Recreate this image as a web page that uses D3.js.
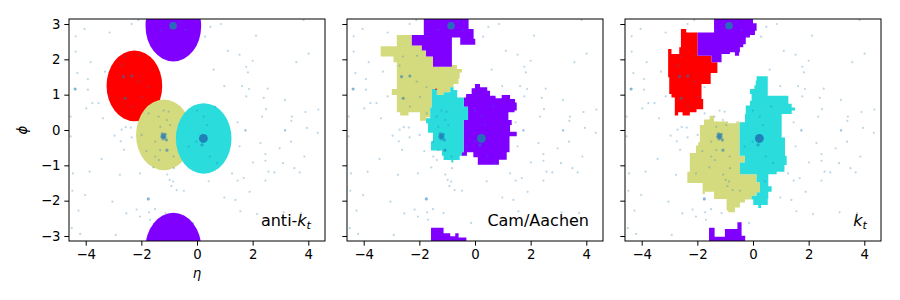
<!DOCTYPE html>
<html><head><meta charset="utf-8">
<script src="https://cdn.jsdelivr.net/npm/d3@7"></script>
<style>body{margin:0;background:#fff} svg text{font-family:"DejaVu Sans",sans-serif}</style>
</head><body><svg id="c" width="900" height="300"></svg>
<script>
// ---------- data ----------
const algorithms = ["anti-kt", "Cam/Aachen", "kt"];
const etaTicks = [-4, -2, 0, 2, 4];
const phiTicks = [-3, -2, -1, 0, 1, 2, 3];
const etaDomain = [-4.6, 4.6];
const phiDomain = [-Math.PI, Math.PI];

// anti-kt: circular areas (drawn in this order)
const antiktJets = [
  {jet: "red",    eta: -2.25, phi: 1.25,  R: 1.0},
  {jet: "yellow", eta: -1.19, phi: -0.14, R: 1.0},
  {jet: "cyan",   eta: 0.24,  phi: -0.24, R: 1.0},
  {jet: "purple", eta: -0.85, phi: 2.94,  R: 1.0}
];

// Cam/Aachen areas (eta, phi outlines)
const camYellow = [[-2.81,2.69],[-2.27,2.69],[-2.27,2.39],[-1.91,2.39],[-1.91,2.25],[-1.76,2.25],[-1.76,2.08],[-1.51,2.08],[-1.51,1.79],[-0.83,1.79],[-0.83,1.84],[-0.65,1.84],[-0.65,1.73],[-0.47,1.73],[-0.47,1.63],[-0.55,1.63],[-0.55,1.46],[-0.59,1.46],[-0.59,1.30],[-0.77,1.30],[-0.77,1.21],[-0.89,1.21],[-0.89,1.07],[-1.13,1.07],[-1.13,0.99],[-1.37,0.99],[-1.37,1.16],[-1.55,1.16],[-1.55,0.64],[-1.61,0.64],[-1.61,0.36],[-1.76,0.36],[-1.76,0.26],[-1.98,0.26],[-1.98,0.50],[-2.39,0.50],[-2.39,0.41],[-2.69,0.41],[-2.69,0.50],[-2.81,0.50],[-2.81,0.99],[-2.99,0.99],[-2.99,1.16],[-2.81,1.16],[-2.81,1.92],[-2.93,1.92],[-2.93,2.08],[-3.39,2.08],[-3.39,2.37],[-2.81,2.37]];
const camPurpleTop = [[-1.84,3.25],[-0.23,3.25],[-0.23,2.86],[-0.05,2.86],[-0.05,2.58],[0.01,2.58],[0.01,2.41],[-0.53,2.41],[-0.53,2.62],[-0.83,2.62],[-0.83,1.79],[-1.51,1.79],[-1.51,2.08],[-1.76,2.08],[-1.76,2.25],[-1.91,2.25],[-1.91,2.39],[-2.27,2.39],[-2.27,2.69],[-1.84,2.69]];
const camPurpleBottom = [[-1.58,-3.25],[-1.58,-2.77],[-1.13,-2.77],[-1.13,-2.92],[-0.89,-2.92],[-0.89,-3.01],[-0.71,-3.01],[-0.71,-2.92],[-0.59,-2.92],[-0.59,-3.04],[-0.31,-3.04],[-0.31,-3.25]];
const camPurpleRight = [[0.00,1.30],[0.18,1.30],[0.18,1.21],[0.44,1.21],[0.44,1.11],[0.54,1.11],[0.54,0.97],[0.74,0.97],[0.74,0.90],[0.96,0.90],[0.96,0.99],[1.26,0.99],[1.26,0.88],[1.44,0.88],[1.44,0.78],[1.50,0.78],[1.50,0.55],[1.42,0.55],[1.42,0.50],[1.20,0.50],[1.20,0.28],[1.32,0.28],[1.32,0.14],[1.26,0.14],[1.26,-0.05],[1.50,-0.05],[1.50,-0.18],[1.24,-0.18],[1.24,-0.63],[1.14,-0.63],[1.14,-0.84],[0.86,-0.84],[0.86,-0.98],[0.10,-0.98],[0.10,-0.77],[-0.06,-0.77],[-0.06,-0.63],[-0.29,-0.63],[-0.29,-0.73],[-0.50,-0.73],[-0.50,-0.63],[-0.41,-0.63],[-0.41,0.28],[-0.25,0.28],[-0.25,0.66],[-0.40,0.66],[-0.40,0.92],[-0.32,0.92],[-0.32,1.02],[-0.12,1.02],[-0.12,1.18],[0.00,1.18]];
const camCyan = [[-1.55,1.16],[-1.37,1.16],[-1.37,0.99],[-1.13,0.99],[-1.13,1.07],[-0.89,1.07],[-0.89,1.21],[-0.77,1.21],[-0.77,1.13],[-0.64,1.13],[-0.64,0.92],[-0.40,0.92],[-0.40,0.66],[-0.25,0.66],[-0.25,0.28],[-0.41,0.28],[-0.41,-0.63],[-0.47,-0.63],[-0.47,-0.73],[-0.55,-0.73],[-0.55,-0.85],[-0.78,-0.85],[-0.78,-0.92],[-0.85,-0.92],[-0.85,-0.85],[-1.13,-0.85],[-1.13,-0.73],[-1.19,-0.73],[-1.19,-0.58],[-1.58,-0.58],[-1.58,-0.32],[-1.51,-0.32],[-1.51,-0.08],[-1.69,-0.08],[-1.69,0.19],[-1.76,0.19],[-1.76,0.33],[-1.61,0.33],[-1.61,0.64],[-1.55,0.64]];
const camRed = [[-1.43,1.17],[-1.36,1.17],[-1.36,1.14],[-1.43,1.14]];

// kt areas
const ktRed = [[-2.59,2.86],[-2.40,2.86],[-2.40,2.76],[-1.99,2.76],[-1.99,2.10],[-1.49,2.10],[-1.49,1.92],[-1.28,1.92],[-1.28,1.61],[-1.52,1.61],[-1.52,1.30],[-1.85,1.30],[-1.85,0.88],[-1.79,0.88],[-1.79,0.59],[-2.03,0.59],[-2.03,0.50],[-2.27,0.50],[-2.27,0.41],[-2.53,0.41],[-2.53,0.50],[-2.69,0.50],[-2.69,0.41],[-2.81,0.41],[-2.81,0.92],[-2.93,0.92],[-2.93,1.02],[-3.01,1.02],[-3.01,1.49],[-3.05,1.49],[-3.05,2.29],[-2.93,2.29],[-2.93,2.15],[-2.65,2.15],[-2.65,2.34],[-2.59,2.34]];
const ktPurpleTop = [[-1.40,3.25],[0.00,3.25],[0.00,3.02],[0.13,3.02],[0.13,2.81],[0.07,2.81],[0.07,2.69],[-0.11,2.69],[-0.11,2.62],[-0.26,2.62],[-0.26,2.43],[-0.35,2.43],[-0.35,2.34],[-0.47,2.34],[-0.47,2.20],[-0.50,2.20],[-0.50,2.10],[-0.65,2.10],[-0.65,2.20],[-0.83,2.20],[-0.83,2.15],[-1.13,2.15],[-1.13,1.92],[-1.49,1.92],[-1.49,2.10],[-1.99,2.10],[-1.99,2.76],[-1.40,2.76]];
const ktPurpleBottom = [[-1.58,-3.25],[-1.58,-2.77],[-1.38,-2.77],[-1.38,-3.02],[-1.01,-3.02],[-1.01,-2.80],[-0.56,-2.80],[-0.56,-2.61],[-0.41,-2.61],[-0.41,-2.99],[-0.28,-2.99],[-0.28,-3.25]];
const ktYellow = [[-1.56,0.40],[-1.40,0.40],[-1.40,0.24],[-0.90,0.24],[-0.90,0.19],[-0.60,0.19],[-0.60,0.24],[-0.48,0.24],[-0.48,-0.73],[-0.29,-0.73],[-0.29,-0.92],[-0.47,-0.92],[-0.47,-1.25],[0.13,-1.25],[0.13,-1.48],[0.25,-1.48],[0.25,-1.76],[0.13,-1.76],[0.13,-1.86],[-0.05,-1.86],[-0.05,-1.97],[-0.29,-1.97],[-0.29,-2.05],[-0.47,-2.05],[-0.47,-2.19],[-0.65,-2.19],[-0.65,-2.33],[-0.89,-2.33],[-0.89,-2.28],[-0.95,-2.28],[-0.95,-1.95],[-1.40,-1.95],[-1.40,-1.75],[-1.73,-1.75],[-1.73,-1.81],[-1.81,-1.81],[-1.81,-1.50],[-2.36,-1.50],[-2.36,-1.18],[-2.27,-1.18],[-2.27,-0.65],[-2.05,-0.65],[-2.05,-0.44],[-1.97,-0.44],[-1.97,-0.35],[-1.91,-0.35],[-1.91,0.14],[-1.76,0.14],[-1.76,0.30],[-1.56,0.30]];
const ktCyan = [[0.13,1.52],[0.53,1.52],[0.53,0.97],[1.27,0.97],[1.27,0.74],[1.39,0.74],[1.39,0.64],[1.51,0.64],[1.51,0.55],[1.39,0.55],[1.39,0.45],[1.03,0.45],[1.03,-0.21],[1.15,-0.21],[1.15,-0.73],[1.21,-0.73],[1.21,-0.99],[1.13,-0.99],[1.13,-1.18],[0.85,-1.18],[0.85,-1.25],[0.55,-1.25],[0.55,-1.59],[0.67,-1.59],[0.67,-1.75],[0.55,-1.75],[0.55,-1.95],[0.53,-1.95],[0.53,-2.12],[0.29,-2.12],[0.29,-2.21],[0.19,-2.21],[0.19,-2.12],[0.01,-2.12],[0.01,-1.97],[-0.05,-1.97],[-0.05,-1.86],[0.13,-1.86],[0.13,-1.76],[0.25,-1.76],[0.25,-1.48],[0.13,-1.48],[0.13,-1.25],[-0.47,-1.25],[-0.47,-0.92],[-0.29,-0.92],[-0.29,-0.73],[-0.48,-0.73],[-0.48,0.22],[-0.29,0.22],[-0.29,0.45],[-0.26,0.45],[-0.26,0.69],[-0.11,0.69],[-0.11,0.83],[-0.05,0.83],[-0.05,1.02],[-0.11,1.02],[-0.11,1.16],[0.05,1.16],[0.05,1.27],[0.10,1.27],[0.10,1.40],[0.13,1.40]];

const camAreas = [
  {jet: "yellow", pts: camYellow}, {jet: "purple", pts: camPurpleTop},
  {jet: "purple", pts: camPurpleBottom}, {jet: "purple", pts: camPurpleRight},
  {jet: "cyan", pts: camCyan}, {jet: "red", pts: camRed}
];
const ktAreas = [
  {jet: "red", pts: ktRed}, {jet: "purple", pts: ktPurpleTop},
  {jet: "purple", pts: ktPurpleBottom}, {jet: "yellow", pts: ktYellow},
  {jet: "cyan", pts: ktCyan}
];

// particles: [eta, phi, pt]
const particles = [
 [0.48,2.92,1],[0.86,3.0,1],[0.29,2.64,1],[2.12,2.67,1],[1.11,2.24,1],[1.53,2.13,1],[2.0,1.96,1],[1.77,1.79,1],[1.83,1.63,1],[0.60,1.71,1],
 [3.57,1.92,1],[4.01,2.16,1],[3.83,3.11,1],[0.98,1.24,1],[1.62,1.24,1],[1.87,1.16,1],[2.54,1.17,1],[1.77,0.95,1],[2.40,0.91,1],[3.16,0.85,1],
 [2.48,0.59,1],[2.34,0.38,1],[3.41,0.38,1],[3.39,0.26,1],[3.90,0.51,1],[4.36,0.58,1],[3.95,0.06,1],[3.16,0.0,1],[1.46,0.22,1],[1.74,0.0,1],
 [1.74,-0.02,1],[3.17,-0.02,1],[4.34,-0.08,1],[2.28,-0.37,1],[3.38,-0.33,1],[2.97,-0.52,1],[3.86,-0.75,1],[2.46,-0.68,1],[2.01,-0.92,1],[2.46,-0.87,1],
 [3.09,-0.94,1],[1.53,-0.46,1],[2.57,-1.18,1],[2.78,-1.20,1],[3.50,-1.08,1],[3.69,-1.20,1],[1.26,-1.23,1],[1.68,-1.36,1],[1.46,-1.43,1],[2.46,-1.43,1],
 [0.42,-1.45,1],[1.89,-1.75,1],[0.98,-1.91,1],[1.38,-1.98,1],[1.56,-2.30,1],[2.16,-2.38,1],[3.11,-2.33,1],[3.74,-2.35,1],
 [-4.54,-0.18,1],[-2.96,-0.16,1],[-2.71,0.01,1],[-2.35,-0.21,1],[-1.99,-0.14,1],[-2.74,-0.32,1],[-2.62,-0.56,1],[-3.43,-0.82,1],[-3.86,-1.18,1],[-4.46,-1.23,1],
 [-2.77,-1.27,1],[-2.05,-1.23,1],[-1.82,-0.60,1],[-1.57,-1.06,1],[-1.37,-0.85,1],[-0.83,-1.08,1],[-1.07,-1.26,1],[-0.98,-1.41,1],[-0.86,-1.46,1],[-0.92,-1.59,1],
 [-0.73,-1.70,1],[-0.47,-1.72,1],[-4.48,-1.72,1],[-4.02,-1.84,1],[-4.26,-2.28,1],[-3.04,-2.03,1],[-1.75,-1.95,2],[-2.17,-2.25,1],[-1.72,-2.33,1],[-1.51,-2.24,1],
 [-1.13,-2.35,1],[-2.54,-2.36,1],[-2.05,-2.45,1],[-1.69,-2.54,1],[-0.14,-2.63,1],[-4.50,-2.78,1],[-4.20,-2.94,1],[-2.92,-2.97,1],
 [-2.35,3.0,1],[-2.11,3.11,1],[-3.14,2.76,1],[-4.04,2.86,1],[-4.36,2.65,1],[-4.36,2.22,1],[-3.82,1.92,1],[-3.31,1.65,1],[-4.30,1.61,1],[-4.38,1.16,2],
 [-3.92,1.44,1],[-3.92,1.14,1],[-3.98,0.61,1],[-3.76,0.76,1],[-3.54,0.76,1],[-3.38,0.33,1],[-3.14,0.95,1],[-2.56,0.08,1],[-2.38,0.07,1],[-4.54,0.38,1],
 [-2.64,1.51,2],[-2.34,1.53,2],[-2.10,1.37,1],[-1.74,1.21,1],[-2.58,0.90,2],[-1.98,0.94,1],[-2.34,0.66,1],[-2.59,2.08,1],[-2.08,2.10,1],[-2.71,1.82,1],
 [-1.20,0.55,1],[-1.02,0.52,1],[-1.38,0.38,1],[-1.08,0.28,1],[-0.96,0.14,1],[-1.32,0.09,1],[-1.50,-0.33,1],[-1.08,-0.57,2],[-1.32,-0.57,1],[-0.84,-0.75,1],[-1.50,-0.75,1],[-1.74,0.47,1],
 [0.24,0.38,1],[0.36,0.14,1],[0.66,0.66,1],[0.18,-0.42,2],[-0.02,-0.33,1],[0.46,-0.75,1],[0.72,-0.94,1],[-0.30,-0.47,1],[0.0,0.55,1],
 [-0.60,3.07,1],[-0.42,2.83,1],[-1.32,2.83,1],
 [-1.24,-0.12,3],[-1.16,-0.20,3],[-1.22,-0.24,3],[-1.14,-0.12,2],[-1.20,-0.17,4],[-1.27,-0.19,2],[-1.10,-0.28,2],
 [-0.86,2.95,12],[0.23,-0.24,16]
];

// ---------- drawing ----------
const jetColors = {purple: "#8000ff", cyan: "#2adcdc", yellow: "#d4db7f", red: "#ff0000"};
const svg = d3.select("#c");
const panelLeft = [69, 347, 625], pw = 256, topY = 19, ph = 222;
const y = d3.scaleLinear().domain(phiDomain).range([topY + ph, topY]);
const rScale = d3.scaleSqrt().domain([0, 16]).range([0, 4.4]);
const tickFmt = d3.format("d");

algorithms.forEach((alg, i) => {
  const left = panelLeft[i];
  const x = d3.scaleLinear().domain(etaDomain).range([left, left + pw]);
  const g = svg.append("g");
  const cid = "clip" + i;
  svg.append("clipPath").attr("id", cid).append("rect")
    .attr("x", left).attr("y", topY).attr("width", pw).attr("height", ph);
  const area = g.append("g").attr("clip-path", `url(#${cid})`);

  if (i === 0) {
    antiktJets.forEach(j => {
      [0, -2 * Math.PI].forEach(off => {
        area.append("ellipse")
          .attr("cx", x(j.eta)).attr("cy", y(j.phi + off))
          .attr("rx", x(j.R) - x(0)).attr("ry", y(0) - y(j.R))
          .attr("fill", jetColors[j.jet]);
      });
    });
  } else {
    const line = d3.line().x(d => x(d[0])).y(d => y(d[1]));
    (i === 1 ? camAreas : ktAreas).forEach(a => {
      area.append("path").attr("d", line(a.pts) + "Z").attr("fill", jetColors[a.jet]);
    });
  }

  area.selectAll("circle.p").data(particles).join("circle")
    .attr("cx", d => x(d[0])).attr("cy", d => y(d[1]))
    .attr("r", d => Math.max(1.1, rScale(d[2])))
    .attr("fill", "#1f77b4")
    .attr("fill-opacity", d => d[2] >= 10 ? 0.9 : d[2] >= 2 ? 0.55 : 0.3);

  // axes
  const xa = g.append("g").attr("transform", `translate(0,${topY + ph})`)
    .call(d3.axisBottom(x).tickValues(etaTicks).tickFormat(tickFmt).tickSize(4.7).tickPadding(3.5).tickSizeOuter(0));
  const ya = g.append("g").attr("transform", `translate(${left},0)`)
    .call(d3.axisLeft(y).tickValues(phiTicks).tickFormat(tickFmt).tickSize(4.7).tickPadding(3.8).tickSizeOuter(0));
  [xa, ya].forEach(a => {
    a.select(".domain").remove();
    a.selectAll("text").attr("font-size", "13.3px").attr("font-family", "DejaVu Sans").attr("fill", "#000");
    a.selectAll("line").attr("stroke", "#000").attr("stroke-width", 1);
  });
  if (i > 0) ya.selectAll("text").remove();

  g.append("rect").attr("x", left).attr("y", topY).attr("width", pw).attr("height", ph)
    .attr("fill", "none").attr("stroke", "#000").attr("stroke-width", 1);

  // algorithm label
  const t = g.append("text").attr("x", left + pw - 14).attr("y", 226)
    .attr("text-anchor", "end").attr("font-size", "16px").attr("fill", "#000");
  if (alg === "Cam/Aachen") {
    t.text("Cam/Aachen");
  } else {
    if (alg === "anti-kt") t.append("tspan").text("anti-");
    t.append("tspan").attr("font-style", "italic").text("k");
    t.append("tspan").attr("font-style", "italic").attr("font-size", "11.2px").attr("dy", 3).text("t");
  }
});

svg.append("text").attr("x", 197).attr("y", 278).attr("text-anchor", "middle")
  .attr("font-size", "13.3px").attr("font-style", "italic").text("η");
svg.append("text").attr("transform", "translate(27,130) rotate(-90)").attr("text-anchor", "middle")
  .attr("font-size", "13.3px").attr("font-style", "italic").text("ϕ");
</script></body></html>
